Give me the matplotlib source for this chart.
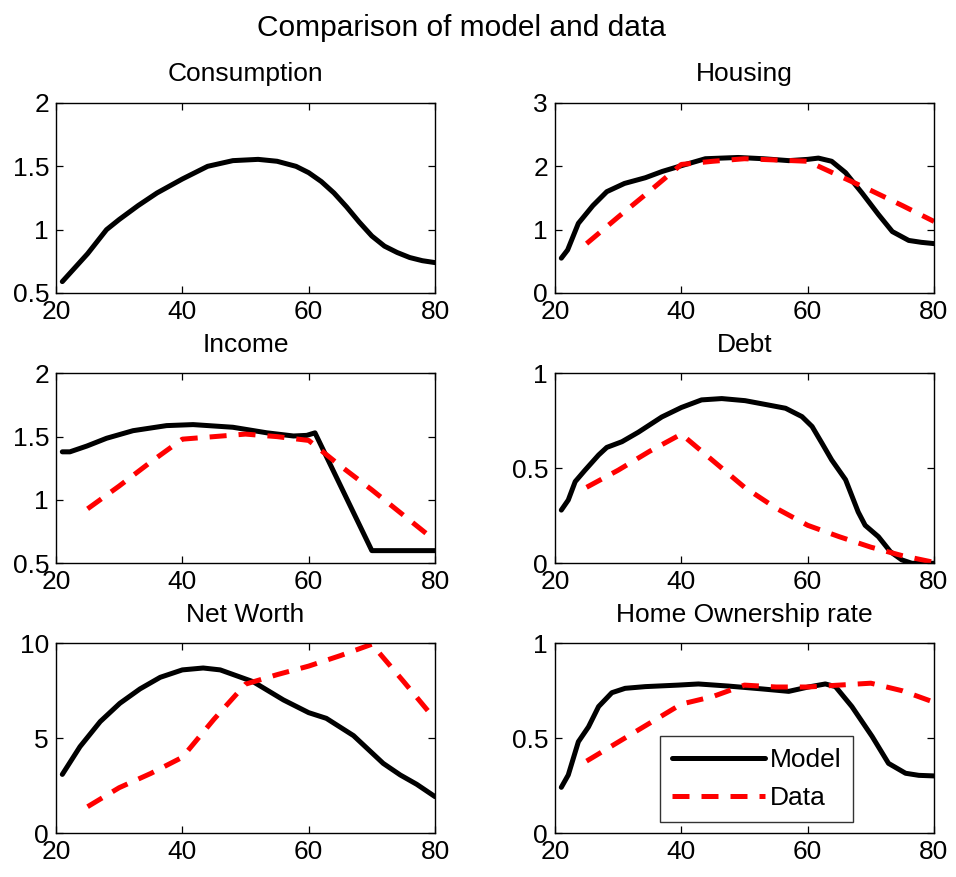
import matplotlib
matplotlib.use("Agg")
import matplotlib.pyplot as plt

plt.rcParams['font.family'] = ['Liberation Sans', 'DejaVu Sans']

# ---------------- data ----------------
data_ages = [25, 30, 35, 40, 45, 50, 55, 60, 65, 70, 75, 80]

cons_ages = [21, 23, 25, 28, 30, 33, 36, 40, 44, 48, 52, 55, 58, 60, 62, 64, 66, 68, 70, 72, 74, 76, 78, 80]
cons_model = [0.59, 0.70, 0.81, 1.00, 1.08, 1.19, 1.29, 1.40, 1.50, 1.545, 1.555, 1.54, 1.50, 1.45,
              1.38, 1.29, 1.18, 1.06, 0.95, 0.87, 0.82, 0.78, 0.755, 0.74]

house_ages = [21, 22, 23.7, 26, 28.2, 31, 34.3, 37, 40, 43.8, 49, 53, 57, 60, 61.7, 63.8, 66, 68.6, 71.2, 73.4, 76, 78, 80]
house_model = [0.55, 0.68, 1.10, 1.38, 1.60, 1.73, 1.82, 1.92, 2.01, 2.12, 2.14, 2.12, 2.09, 2.11,
               2.13, 2.08, 1.90, 1.58, 1.24, 0.97, 0.83, 0.80, 0.78]
house_data = [0.78, 1.20, 1.61, 2.03, 2.08, 2.12, 2.10, 2.08, 1.85, 1.62, 1.38, 1.13]

inc_ages = [21, 22.2, 24.9, 28, 32.2, 37.5, 41.7, 48, 53.4, 57.6, 59.7, 61, 70, 80]
inc_model = [1.38, 1.38, 1.426, 1.487, 1.547, 1.587, 1.595, 1.574, 1.53, 1.505, 1.51, 1.53, 0.60, 0.60]
inc_data = [0.93, 1.11, 1.30, 1.48, 1.50, 1.52, 1.50, 1.47, 1.27, 1.08, 0.88, 0.68]

debt_ages = [21, 22.1, 23.2, 24.75, 26.9, 28.2, 30.6, 33.2, 36.9, 40, 43.2, 46.4, 50.1, 53.8, 56.5,
             59.1, 60.7, 62.3, 63.8, 66, 68, 69.1, 71.2, 73.1, 74.9, 76.5, 78.6, 80]
debt_model = [0.28, 0.333, 0.43, 0.49, 0.57, 0.61, 0.64, 0.69, 0.77, 0.82, 0.86, 0.867, 0.856, 0.833,
              0.816, 0.772, 0.72, 0.63, 0.544, 0.44, 0.27, 0.20, 0.14, 0.061, 0.018, 0.0, 0.0, 0.0]
debt_data = [0.40, 0.49, 0.59, 0.68, 0.54, 0.40, 0.29, 0.20, 0.14, 0.085, 0.04, 0.005]

nw_ages = [21, 23.8, 27, 30.1, 33.3, 36.5, 40, 43.3, 46, 51.2, 56, 60, 62.8, 67.1, 71.8, 74.5, 77.1, 80]
nw_model = [3.1, 4.56, 5.88, 6.84, 7.6, 8.21, 8.6, 8.7, 8.6, 7.98, 7.02, 6.35, 6.05, 5.14, 3.68, 3.07, 2.58, 1.93]
nw_data = [1.4, 2.4, 3.15, 4.0, 6.0, 7.85, 8.35, 8.8, 9.35, 9.95, 8.0, 6.0]

own_ages = [21, 22.1, 23.7, 25.3, 26.9, 29, 31.1, 34.3, 39.5, 42.7, 47.4, 52.75, 57, 60.1, 62.8, 64.4,
            67, 70.2, 72.8, 75.5, 77.6, 80]
own_model = [0.242, 0.307, 0.482, 0.56, 0.667, 0.74, 0.763, 0.772, 0.78, 0.786, 0.775, 0.76, 0.747,
             0.77, 0.786, 0.772, 0.667, 0.51, 0.368, 0.316, 0.305, 0.302]
own_data = [0.38, 0.48, 0.58, 0.68, 0.72, 0.78, 0.77, 0.77, 0.78, 0.79, 0.75, 0.69]

panels = [
    ("Consumption", cons_ages, cons_model, None, (0.5, 2), [0.5, 1, 1.5, 2], ["0.5", "1", "1.5", "2"]),
    ("Housing", house_ages, house_model, house_data, (0, 3), [0, 1, 2, 3], ["0", "1", "2", "3"]),
    ("Income", inc_ages, inc_model, inc_data, (0.5, 2), [0.5, 1, 1.5, 2], ["0.5", "1", "1.5", "2"]),
    ("Debt", debt_ages, debt_model, debt_data, (0, 1), [0, 0.5, 1], ["0", "0.5", "1"]),
    ("Net Worth", nw_ages, nw_model, nw_data, (0, 10), [0, 5, 10], ["0", "5", "10"]),
    ("Home Ownership rate", own_ages, own_model, own_data, (0, 1), [0, 0.5, 1], ["0", "0.5", "1"]),
]
x_ticks = [20, 40, 60, 80]

# ---------------- figure ----------------
W, H = 956, 877
fig = plt.figure(figsize=(W / 100, H / 100), dpi=100)

lefts = [56, 555]
tops = [103, 373.3, 643.3]
aw, ah = 379, 190

FS = 19
for i, (title, ages, model, data, ylim, yt, ytl) in enumerate(panels):
    r, c = divmod(i, 2)
    ax = fig.add_axes([lefts[c] / W, 1 - (tops[r] + ah) / H, aw / W, ah / H])
    lm, = ax.plot(ages, model, color='black', lw=3.6, solid_capstyle='round',
                  solid_joinstyle='round', label='Model')
    if data is not None:
        ld, = ax.plot(data_ages, data, color='#ff0000', lw=3.6, linestyle=(0, (3.4, 2.4)),
                      dash_capstyle='butt', dash_joinstyle='round', label='Data')
    ax.set_xlim(20, 80)
    ax.set_ylim(*ylim)
    ax.set_xticks(x_ticks)
    ax.set_xticklabels([str(t) for t in x_ticks])
    ax.set_yticks(yt)
    ax.set_yticklabels(ytl)
    ax.tick_params(direction='in', top=True, right=True, labelsize=FS, length=5,
                   width=0.9, pad=5)
    for s in ax.spines.values():
        s.set_linewidth(1.0)
    ax.set_title(title, fontsize=FS, pad=15.5)
    if i == 5:
        leg = ax.legend(handles=[lm, ld], loc='lower left', bbox_to_anchor=(0.278, 0.058),
                        fontsize=FS, frameon=True, fancybox=False, edgecolor='black',
                        handlelength=3.5, handletextpad=0.2, borderpad=0.45,
                        labelspacing=0.55, borderaxespad=0)
        leg.get_frame().set_linewidth(1.0)

fig.text(461 / W, 1 - 28 / H, "Comparison of model and data", ha='center', va='center',
         fontsize=21.5)

fig.savefig("out.png", dpi=100)
